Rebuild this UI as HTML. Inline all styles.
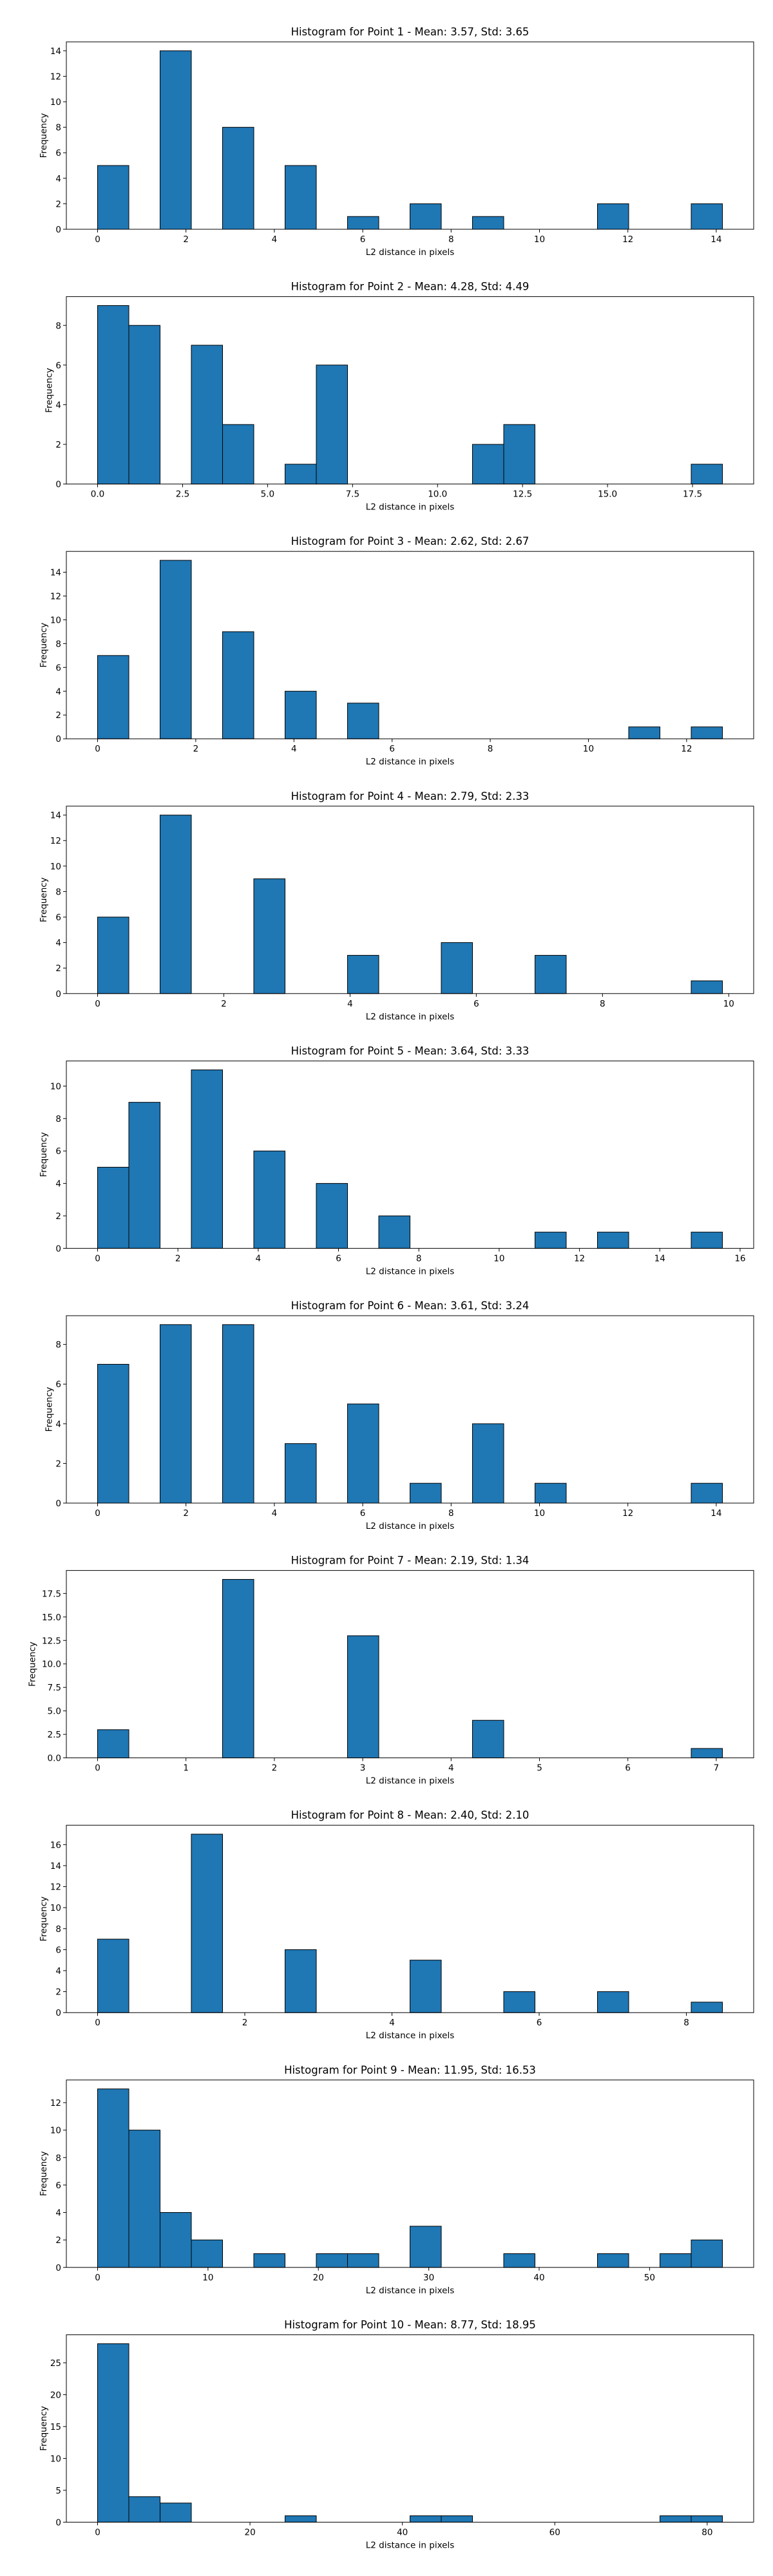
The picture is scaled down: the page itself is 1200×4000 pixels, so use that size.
<!DOCTYPE html>
<html><head><meta charset="utf-8"><style>
html,body{margin:0;padding:0;background:#fff;}
svg{display:block;font-family:"DejaVu Sans","Liberation Sans",sans-serif;}
</style></head><body>
<svg id="root" width="1200" height="4000" viewBox="0 0 1200 4000" xmlns="http://www.w3.org/2000/svg"></svg>
<script>
const titles = [
 "Histogram for Point 1 - Mean: 3.57, Std: 3.65",
 "Histogram for Point 2 - Mean: 4.28, Std: 4.49",
 "Histogram for Point 3 - Mean: 2.62, Std: 2.67",
 "Histogram for Point 4 - Mean: 2.79, Std: 2.33",
 "Histogram for Point 5 - Mean: 3.64, Std: 3.33",
 "Histogram for Point 6 - Mean: 3.61, Std: 3.24",
 "Histogram for Point 7 - Mean: 2.19, Std: 1.34",
 "Histogram for Point 8 - Mean: 2.40, Std: 2.10",
 "Histogram for Point 9 - Mean: 11.95, Std: 16.53",
 "Histogram for Point 10 - Mean: 8.77, Std: 18.95"
];
const dataMax = [14.14, 18.38, 12.73, 9.9, 15.56, 14.14, 7.07, 8.49, 56.6, 82.0];
const counts1 = [5,0,14,0,8,0,5,0,1,0,2,0,1,0,0,0,2,0,0,2];
const counts2 = [9,8,0,7,3,0,1,6,0,0,0,0,2,3,0,0,0,0,0,1];
const counts3 = [7,0,15,0,9,0,4,0,3,0,0,0,0,0,0,0,0,1,0,1];
const counts4 = [6,0,14,0,0,9,0,0,3,0,0,4,0,0,3,0,0,0,0,1];
const counts5 = [5,9,0,11,0,6,0,4,0,2,0,0,0,0,1,0,1,0,0,1];
const counts6 = [7,0,9,0,9,0,3,0,5,0,1,0,4,0,1,0,0,0,0,1];
const counts7 = [3,0,0,0,19,0,0,0,13,0,0,0,4,0,0,0,0,0,0,1];
const counts8 = [7,0,0,17,0,0,6,0,0,0,5,0,0,2,0,0,2,0,0,1];
const counts9 = [13,10,4,2,0,1,0,1,1,0,3,0,0,1,0,0,1,0,1,2];
const counts10 = [28,4,3,0,0,0,1,0,0,0,1,1,0,0,0,0,0,0,1,1];
const allCounts = [counts1,counts2,counts3,counts4,counts5,counts6,counts7,counts8,counts9,counts10];
const xTicks = [
 [0,2,4,6,8,10,12,14],
 [0,2.5,5,7.5,10,12.5,15,17.5],
 [0,2,4,6,8,10,12],
 [0,2,4,6,8,10],
 [0,2,4,6,8,10,12,14,16],
 [0,2,4,6,8,10,12,14],
 [0,1,2,3,4,5,6,7],
 [0,2,4,6,8],
 [0,10,20,30,40,50],
 [0,20,40,60,80]
];
const xTickLabels = [
 ["0","2","4","6","8","10","12","14"],
 ["0.0","2.5","5.0","7.5","10.0","12.5","15.0","17.5"],
 ["0","2","4","6","8","10","12"],
 ["0","2","4","6","8","10"],
 ["0","2","4","6","8","10","12","14","16"],
 ["0","2","4","6","8","10","12","14"],
 ["0","1","2","3","4","5","6","7"],
 ["0","2","4","6","8"],
 ["0","10","20","30","40","50"],
 ["0","20","40","60","80"]
];
const yTicks = [
 [0,2,4,6,8,10,12,14],
 [0,2,4,6,8],
 [0,2,4,6,8,10,12,14],
 [0,2,4,6,8,10,12,14],
 [0,2,4,6,8,10],
 [0,2,4,6,8],
 [0,2.5,5,7.5,10,12.5,15,17.5],
 [0,2,4,6,8,10,12,14,16],
 [0,2,4,6,8,10,12],
 [0,5,10,15,20,25]
];
const yTickLabels = [
 ["0","2","4","6","8","10","12","14"],
 ["0","2","4","6","8"],
 ["0","2","4","6","8","10","12","14"],
 ["0","2","4","6","8","10","12","14"],
 ["0","2","4","6","8","10"],
 ["0","2","4","6","8"],
 ["0.0","2.5","5.0","7.5","10.0","12.5","15.0","17.5"],
 ["0","2","4","6","8","10","12","14","16"],
 ["0","2","4","6","8","10","12"],
 ["0","5","10","15","20","25"]
];

const NS = "http://www.w3.org/2000/svg";
const root = document.getElementById('root');
function mk(tag, attrs, parent){
  const e = document.createElementNS(NS, tag);
  for (const k in attrs) e.setAttribute(k, attrs[k]);
  parent.appendChild(e);
  return e;
}
const L = 103, R = 1170, H = 291;
for (let c = 0; c < 10; c++){
  const top = 65 + 395.6*c, bot = top + H;
  const g = mk('g', {}, root);
  
  
  const counts = allCounts[c];
  const dmax = dataMax[c];
  const x0 = -0.05*dmax, x1 = dmax*1.05;
  const ymax = Math.max(...counts)*1.05;
  const sx = v => L + (v - x0)/(x1 - x0)*(R - L);
  const sy = v => bot - v/ymax*H;
  const bw = dmax/counts.length;
  // baseline-zero bars (empty bins draw as thin line)
  counts.forEach((n, i) => {
    const xa = sx(i*bw), xb = sx((i+1)*bw);
    const r = mk('rect', {x: xa, y: sy(n), width: xb - xa, height: sy(0) - sy(n), fill: '#1f77b4', stroke: '#000', 'stroke-width': 1}, g);
    
    
  });
  const frame = mk('rect', {x: L, y: top, width: R - L, height: H, fill: 'none', stroke: '#000', 'stroke-width': 1}, g);
  
  
  xTicks[c].forEach((t, i) => {
    const x = sx(t);
    mk('line', {x1: x, x2: x, y1: bot, y2: bot + 5, stroke: '#000', 'stroke-width': 1}, g);
    const tx = mk('text', {x: x, y: bot + 20, 'font-size': 13.5, 'text-anchor': 'middle', fill: '#000'}, g);
    tx.textContent = xTickLabels[c][i];
    
    
  });
  yTicks[c].forEach((t, i) => {
    const y = sy(t);
    mk('line', {x1: L - 5, x2: L, y1: y, y2: y, stroke: '#000', 'stroke-width': 1}, g);
    const ty = mk('text', {x: L - 8, y: y + 5, 'font-size': 13.5, 'text-anchor': 'end', fill: '#000'}, g);
    ty.textContent = yTickLabels[c][i];
    
    
  });
  const tt = mk('text', {x: (L + R)/2, y: top - 10, 'font-size': 16.5, 'text-anchor': 'middle', fill: '#000'}, g);
  tt.textContent = titles[c];
  
  
  const xl = mk('text', {x: (L + R)/2, y: bot + 40, 'font-size': 13.5, 'text-anchor': 'middle', fill: '#000'}, g);
  xl.textContent = 'L2 distance in pixels';
  
  
  const maxLab = Math.max(...yTickLabels[c].map(s => s.length));
  const ylx = L - 14 - maxLab*8.6;
  const yl = mk('text', {x: ylx, y: top + H/2, 'font-size': 13.5, 'text-anchor': 'middle', fill: '#000', transform: 'rotate(-90 ' + ylx + ' ' + (top + H/2) + ')'}, g);
  yl.textContent = 'Frequency';
  
  
}
</script>
</body></html>
